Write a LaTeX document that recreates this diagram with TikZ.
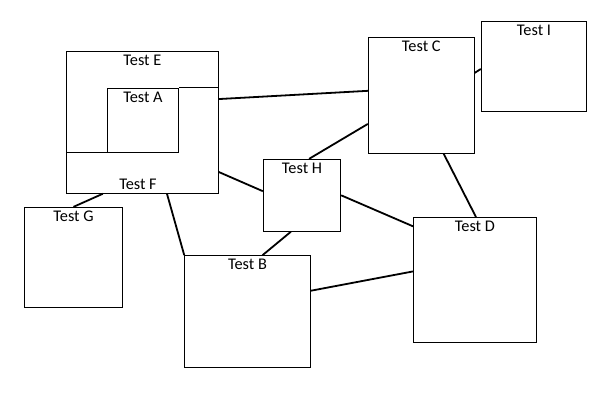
\documentclass[tikz,border=0pt]{standalone}
\usepackage{fontspec}
\setmainfont{Carlito}
\usepackage{tikz}
\usetikzlibrary{positioning}

\tikzset{
  testbox/.style={draw, fill=white, line width=0.9pt, inner sep=0pt},
  testlbl/.style={font=\fontsize{16.3}{19}\selectfont, inner sep=3.5pt},
  link/.style={line width=1.8pt}
}

\begin{document}
\begin{tikzpicture}[x=1pt,y=-1pt]
\useasboundingbox (0,0) rectangle (600,400);
\begin{scope}[line join=miter]
% boxes
\node[testbox, minimum width=151.8pt, minimum height=141.8pt,
  label={[testlbl,anchor=north]north:Test E}] (e) at (142.4,122.4) {};
\node[testbox, minimum width=71.4pt, minimum height=64pt,
  label={[testlbl,anchor=north]north:Test A}] (a) at (143,120.3) {};
\draw[line width=0.9pt] (a.north east) -- (a.north east -| e.east);
\draw[line width=0.9pt] (a.south west) -- (a.south west -| e.west);
\node[testlbl] (f) at (138,184.5) {Test F};

\node[testbox, minimum width=106pt, minimum height=115.6pt,
  label={[testlbl,anchor=north]north:Test C}] (c) at (421.3,95.5) {};
\node[testbox, minimum width=105.4pt, minimum height=89.7pt,
  label={[testlbl,anchor=north]north:Test I}] (i) at (534,66.2) {};
\node[testbox, minimum width=122.8pt, minimum height=125.2pt,
  label={[testlbl,anchor=north]north:Test D}] (d) at (474.9,280.1) {};
\node[testbox, minimum width=98.4pt, minimum height=100pt,
  label={[testlbl,anchor=north]north:Test G}] (g) at (73.5,257.3) {};
\node[testbox, minimum width=77.4pt, minimum height=72pt,
  label={[testlbl,anchor=north]north:Test H}] (h) at (302,195.3) {};
\node[testbox, minimum width=125.6pt, minimum height=111.3pt,
  label={[testlbl,anchor=north]north:Test B}] (b) at (247.5,311.3) {};

% links
\draw[link] (e.17.6) -- (c.175.1);
\draw[link] (c.23.6) -- (i.183.4);
\draw[link] (c.291.7) -- (d.89.3);
\draw[link] (h.79) -- (c.208.3);
\draw[link] (e.327.2) -- (h.174.1);
\draw[link] (h.east) -- (d.139.3);
\draw[link] (h.253) -- (b.75.1);
\draw[link] (b.18.5) -- (d.172.2);
\draw[link] (e.289.4) -- (b.north west);
\draw[link] (e.241.7) -- (g.north);
\end{scope}
\end{tikzpicture}
\end{document}
